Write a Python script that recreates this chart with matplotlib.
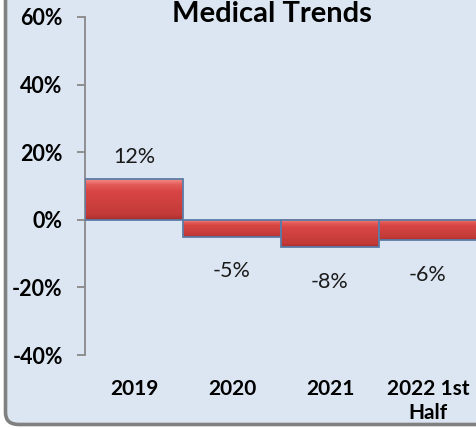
import numpy as np
import matplotlib
matplotlib.use("Agg")
import matplotlib.pyplot as plt
from matplotlib.patches import FancyBboxPatch
from matplotlib.colors import LinearSegmentedColormap
import matplotlib.ticker as ticker

# data
categories = ["2019", "2020", "2021", "2022 1st\nHalf"]
values = [12, -5, -8, -6]
labels = ["12%", "-5%", "-8%", "-6%"]
yticks = [-40, -20, 0, 20, 40, 60]

W, H = 477, 428
BG = "#dce6f2"

plt.rcParams["font.family"] = ["Lato", "DejaVu Sans"]

fig = plt.figure(figsize=(W / 100, H / 100), dpi=100)
fig.patch.set_facecolor("white")

# rounded frame, cropped at top and right like the original
frame = FancyBboxPatch((5.5 / W, 3.5 / H), 1.2, 1.2, boxstyle="round,pad=0,rounding_size=0.028",
                       transform=fig.transFigure, facecolor=BG, edgecolor="#808080",
                       linewidth=2.6, zorder=-10)
fig.patches.append(frame)

ax = fig.add_axes([85 / W, (H - 355) / H, (W - 85) / W, (355 - 17) / H])
ax.set_facecolor("none")
ax.set_zorder(1)

# bevel-ish vertical gradient for the bars
grad = LinearSegmentedColormap.from_list(
    "bev", [(0.0, "#a82e2c"), (0.12, "#c23a38"), (0.7, "#d84644"),
            (0.86, "#e25a57"), (1.0, "#f48a86")])

x = np.arange(len(categories))
bars = ax.bar(x, values, width=1.0, color="none", edgecolor="#5b7ba6",
              linewidth=1.3, zorder=3)
for b in bars:
    x0, x1 = b.get_x(), b.get_x() + b.get_width()
    y0, y1 = sorted([b.get_y(), b.get_y() + b.get_height()])
    g = np.linspace(0, 1, 64).reshape(-1, 1)
    ax.imshow(g, cmap=grad, origin="lower", extent=(x0, x1, y0, y1),
              aspect="auto", zorder=2, interpolation="bilinear")

for xi, v, lab in zip(x, values, labels):
    off = 16 if v > 0 else -25
    ax.annotate(lab, (xi, v), xytext=(0, off), textcoords="offset points",
                ha="center", va="center", fontsize=15.5, color="#1a1a1a")

ax.set_xlim(-0.5, len(categories) - 0.5)
ax.set_ylim(-40, 60)
ax.set_yticks(yticks)
ax.yaxis.set_major_formatter(ticker.FuncFormatter(lambda v, p: f"{v:.0f}%"))
ax.set_xticks(x)
ax.set_xticklabels(categories, fontweight="bold", fontsize=15, linespacing=1.3)
ax.tick_params(axis="x", length=0, pad=17)
ax.tick_params(axis="y", length=5.5, color="#888888", width=1.3, pad=10.5, labelsize=15.5)
for t in ax.get_yticklabels():
    t.set_fontweight("bold")
for s in ["top", "right", "bottom"]:
    ax.spines[s].set_visible(False)
ax.spines["left"].set_color("#888888")
ax.spines["left"].set_linewidth(1.3)

fig.text(272 / W, (H - 1) / H, "Medical Trends", ha="center", va="top",
         fontsize=21, fontweight="bold")

fig.savefig("out.png", dpi=100, facecolor=fig.get_facecolor())
